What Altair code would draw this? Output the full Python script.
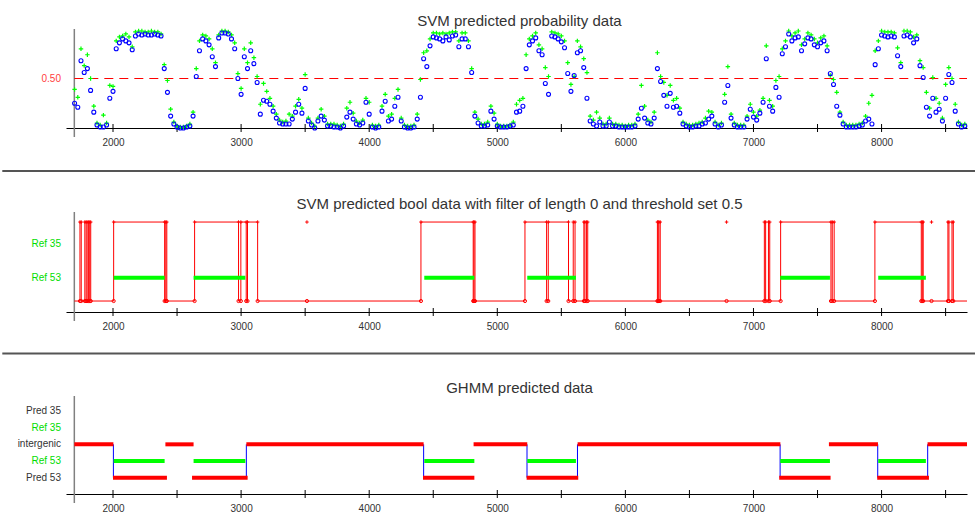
import altair as alt
import pandas as pd

FONT = "Liberation Sans"

# ---------------- shared axis data ----------------
X_MIN, X_MAX = 1633, 8667
Y_AXIS_AT = 1698
X_LABELS = [2000, 3000, 4000, 5000, 6000, 7000, 8000]
X_TICKS = [2000, 2500, 3000, 3500, 4000, 4500, 5000, 5500, 6000, 6500, 7000, 7500, 8000, 8500]

TITLE1 = "SVM predicted probability data"
TITLE2 = "SVM predicted bool data with filter of length 0 and threshold set 0.5"
TITLE3 = "GHMM predicted data"

# ---------------- panel 1: probabilities (sampled every 25 from 1700) ----------------
PROB_START, PROB_STEP = 1700, 25
svm_blue = [
    0.25, 0.21, 0.68, 0.56, 0.60, 0.38, 0.16, 0.03, 0.01, 0.01,
    0.03, 0.30, 0.37, 0.80, 0.86, 0.90, 0.88, 0.86, 0.79, 0.93,
    0.95, 0.94, 0.95, 0.94, 0.94, 0.95, 0.94, 0.93, 0.60, 0.36,
    0.12, 0.04, 0.01, 0.00, 0.00, 0.01, 0.02, 0.12, 0.52, 0.78,
    0.90, 0.88, 0.84, 0.72, 0.62, 0.91, 0.96, 0.96, 0.95, 0.90,
    0.80, 0.50, 0.34, 0.72, 0.60, 0.78, 0.65, 0.46, 0.14, 0.28,
    0.27, 0.24, 0.17, 0.10, 0.05, 0.04, 0.04, 0.04, 0.09, 0.16,
    0.24, 0.15, 0.40, 0.07, 0.03, 0.00, 0.07, 0.12, 0.08, 0.02,
    0.02, 0.01, 0.01, 0.00, 0.02, 0.11, 0.16, 0.09, 0.04, 0.03,
    0.05, 0.26, 0.14, 0.01, 0.00, 0.01, 0.17, 0.27, 0.07, 0.09,
    0.22, 0.31, 0.07, 0.01, 0.00, 0.00, 0.01, 0.09, 0.31, 0.70,
    0.62, 0.83, 0.92, 0.91, 0.90, 0.88, 0.92, 0.89, 0.93, 0.94,
    0.82, 0.90, 0.90, 0.82, 0.56, 0.12, 0.05, 0.02, 0.02, 0.03,
    0.17, 0.09, 0.02, 0.01, 0.01, 0.01, 0.02, 0.03, 0.16, 0.17,
    0.22, 0.60, 0.84, 0.88, 0.91, 0.78, 0.74, 0.45, 0.34, 0.93,
    0.92, 0.90, 0.87, 0.81, 0.55, 0.37, 0.53, 0.76, 0.78, 0.61,
    0.30, 0.07, 0.04, 0.02, 0.06, 0.02, 0.02, 0.06, 0.02, 0.02,
    0.01, 0.01, 0.01, 0.01, 0.01, 0.02, 0.09, 0.20, 0.10, 0.05,
    0.04, 0.10, 0.60, 0.47, 0.33, 0.22, 0.35, 0.21, 0.22, 0.15,
    0.04, 0.02, 0.01, 0.01, 0.02, 0.02, 0.04, 0.05, 0.09, 0.12,
    0.04, 0.01, 0.03, 0.26, 0.43, 0.10, 0.03, 0.01, 0.01, 0.01,
    0.09, 0.19, 0.11, 0.08, 0.15, 0.26, 0.70, 0.22, 0.17, 0.41,
    0.31, 0.75, 0.82, 0.95, 0.88, 0.91, 0.92, 0.78, 0.85, 0.91,
    0.90, 0.84, 0.82, 0.86, 0.88, 0.78, 0.55, 0.44, 0.22, 0.13,
    0.04, 0.01, 0.01, 0.01, 0.01, 0.02, 0.03, 0.07, 0.09, 0.04,
    0.64, 0.80, 0.94, 0.93, 0.92, 0.93, 0.92, 0.73, 0.62, 0.93,
    0.94, 0.92, 0.86, 0.90, 0.63, 0.51, 0.21, 0.12, 0.30, 0.16,
    0.19, 0.07, 0.30, 0.54, 0.46, 0.17, 0.04, 0.01, 0.02,
]
svm_green = [
    0.39, 0.31, 0.80, 0.63, 0.74, 0.50, 0.22, 0.05, 0.03, 0.13,
    0.05, 0.43, 0.42, 0.88, 0.92, 0.93, 0.95, 0.92, 0.82, 0.97,
    0.98, 0.98, 0.97, 0.97, 0.98, 0.97, 0.97, 0.95, 0.64, 0.48,
    0.19, 0.06, 0.02, 0.01, 0.01, 0.02, 0.04, 0.16, 0.60, 0.88,
    0.94, 0.93, 0.90, 0.80, 0.66, 0.94, 0.98, 0.98, 0.97, 0.94,
    0.86, 0.55, 0.40, 0.80, 0.66, 0.86, 0.71, 0.52, 0.24, 0.45,
    0.37, 0.30, 0.22, 0.14, 0.08, 0.06, 0.07, 0.14, 0.12, 0.22,
    0.29, 0.20, 0.54, 0.10, 0.05, 0.02, 0.10, 0.19, 0.12, 0.04,
    0.04, 0.04, 0.03, 0.02, 0.04, 0.20, 0.26, 0.15, 0.07, 0.05,
    0.08, 0.30, 0.26, 0.03, 0.02, 0.03, 0.22, 0.34, 0.12, 0.14,
    0.30, 0.39, 0.10, 0.03, 0.02, 0.02, 0.03, 0.14, 0.49, 0.76,
    0.78, 0.90, 0.96, 0.96, 0.95, 0.96, 0.95, 0.96, 0.97, 0.97,
    0.88, 0.96, 0.96, 0.88, 0.60, 0.16, 0.09, 0.04, 0.04, 0.06,
    0.22, 0.15, 0.04, 0.02, 0.02, 0.02, 0.03, 0.06, 0.24, 0.28,
    0.30, 0.74, 0.90, 0.93, 0.96, 0.84, 0.80, 0.61, 0.52, 0.97,
    0.96, 0.95, 0.93, 0.88, 0.66, 0.44, 0.52, 0.88, 0.82, 0.70,
    0.56, 0.12, 0.08, 0.16, 0.10, 0.04, 0.04, 0.10, 0.04, 0.04,
    0.03, 0.03, 0.02, 0.03, 0.03, 0.04, 0.14, 0.43, 0.22, 0.08,
    0.06, 0.16, 0.76, 0.52, 0.46, 0.33, 0.43, 0.28, 0.30, 0.20,
    0.06, 0.04, 0.03, 0.03, 0.04, 0.05, 0.06, 0.10, 0.17, 0.16,
    0.06, 0.03, 0.05, 0.34, 0.62, 0.14, 0.05, 0.03, 0.03, 0.03,
    0.12, 0.24, 0.16, 0.12, 0.18, 0.30, 0.83, 0.28, 0.22, 0.48,
    0.52, 0.80, 0.88, 0.98, 0.93, 0.96, 0.98, 0.84, 0.90, 0.96,
    0.94, 0.90, 0.86, 0.91, 0.93, 0.83, 0.53, 0.49, 0.36, 0.16,
    0.06, 0.03, 0.03, 0.03, 0.03, 0.04, 0.05, 0.12, 0.25, 0.33,
    0.78, 0.88, 0.98, 0.97, 0.97, 0.97, 0.96, 0.81, 0.66, 0.98,
    0.98, 0.97, 0.92, 0.94, 0.68, 0.61, 0.36, 0.20, 0.51, 0.30,
    0.25, 0.10, 0.44, 0.61, 0.50, 0.24, 0.06, 0.03, 0.04,
]
THRESHOLD = 0.5

# ---------------- panel 2: boolean prediction ----------------
bool_on = [1742, 1780, 1798, 1818, 2005, 2412, 2637, 2998, 3050, 4404, 4818,
           5216, 5398, 5593, 5676, 5696, 6250, 6262, 7085, 7117, 7212, 7615,
           7948, 8318, 8518, 8550]
bool_off = [1752, 1790, 1808, 1826, 2403, 2420, 2980, 3040, 3129, 4812, 4826,
            5385, 5556, 5607, 5684, 5706, 6256, 6272, 7095, 7127, 7605, 7630,
            8310, 8325, 8526, 8560]
bool_dots = [3514, 6790, 8390]
REF53_BOOL_LEVEL, REF35_BOOL_LEVEL = 0.295, 0.72

# reference genes (Ref 53)
ref_start = [2005, 2629, 4430, 5234, 7209, 7974]
ref_end = [2403, 3033, 4821, 5614, 7597, 8346]

# ---------------- panel 3: GHMM ----------------
# levels: Pred 53 = 0, Ref 53 = 1, intergenic = 2, Ref 35 = 3, Pred 35 = 4
inter_start = [1698, 2409, 3041, 4815, 5627, 7589, 8359]
inter_end = [2003, 2629, 4425, 5234, 7210, 7972, 8667]
pred_start = [2000, 2617, 4420, 5229, 7201, 7966]
pred_end = [2421, 3051, 4821, 5632, 7602, 8370]
switch_x = [2003, 3041, 4425, 5232, 5626, 7208, 7970, 8360]

# ---------------- layout ----------------
W = 901
H1, H2, H3 = 99, 100, 98
RED, GREEN, BLUE = "#ff0000", "#00ff00", "#0000ff"
LBL_GREEN, LBL_DARK = "#00dd00", "#333333"

xs = alt.Scale(domain=[X_MIN, X_MAX], nice=False, zero=False)
xaxis = alt.Axis(values=X_LABELS, format="d", ticks=False, grid=False, title=None,
                 domainColor="#000000", domainWidth=1, labelFont=FONT,
                 labelFontSize=10, labelColor="#333333", labelPadding=9,
                 labelFlush=False)


def X(field):
    return alt.X(field, type="quantitative", scale=xs, axis=xaxis)


def frame_layers(h):
    yline = alt.Chart(pd.DataFrame({"x": [Y_AXIS_AT]})).mark_rule(
        color="#808080", strokeWidth=1.5).encode(
        x=X("x"), y=alt.value(0), y2=alt.value(h + 9))
    ticks = alt.Chart(pd.DataFrame({"x": X_TICKS})).mark_rule(
        color="#000000", strokeWidth=1).encode(
        x=X("x"), y=alt.value(h - 4), y2=alt.value(h + 4))
    return [yline, ticks]


def ylabels(names, vals, colors, ys):
    df = pd.DataFrame({"name": names, "v": vals, "c": colors})
    return alt.Chart(df).mark_text(align="right", baseline="middle",
                                   fontSize=10, font=FONT).encode(
        x=alt.value(-5), y=alt.Y("v:Q", scale=ys, axis=None),
        text="name:N", color=alt.Color("c:N", scale=None))


def title_layer(text):
    return alt.Chart(pd.DataFrame({"t": [text]})).mark_text(
        fontSize=15, font=FONT, color="#333333", align="center",
        baseline="alphabetic").encode(
        x=alt.value(W / 2 + 3), y=alt.value(-3), text="t:N")


def separator(y):
    return alt.Chart(pd.DataFrame({"a": [0]})).mark_rule(
        color="#555555", strokeWidth=2).encode(
        x=alt.value(-63.7), x2=alt.value(909), y=alt.value(y))


# ---- panel 1 ----
prob_x = [PROB_START + PROB_STEP * i for i in range(len(svm_blue))]
p1_df = pd.DataFrame({"x": prob_x, "blue": svm_blue, "green": svm_green})
ys1 = alt.Scale(domain=[0, 1], nice=False, zero=False)

anchor = alt.Chart(pd.DataFrame({"a": [0]})).mark_rule(
    color="white", strokeWidth=1).encode(
    x=alt.value(-64.7), x2=alt.value(909), y=alt.value(-28))

green_pts = alt.Chart(p1_df).mark_point(
    shape="M-1,0L1,0M0,-1L0,1", filled=False, color=GREEN, size=20,
    strokeWidth=1.2, opacity=1).encode(
    x=X("x"), y=alt.Y("green:Q", scale=ys1, axis=None))
blue_pts = alt.Chart(p1_df).mark_point(
    shape="circle", filled=False, color=BLUE, size=16, strokeWidth=1.1,
    opacity=1).encode(
    x=X("x"), y=alt.Y("blue:Q", scale=ys1, axis=None))
thr = alt.Chart(pd.DataFrame({"x": [Y_AXIS_AT], "x2": [X_MAX], "y": [THRESHOLD]})).mark_rule(
    color=RED, strokeDash=[9, 6], strokeWidth=1).encode(
    x=X("x"), x2="x2:Q", y=alt.Y("y:Q", scale=ys1, axis=None))

p1 = alt.layer(
    anchor, *frame_layers(H1), thr, green_pts, blue_pts,
    ylabels(["0.50"], [THRESHOLD], ["#ff4040"], ys1),
    title_layer(TITLE1),
).properties(width=W, height=H1)

# ---- panel 2 ----
ys2 = alt.Scale(domain=[-0.139, 1.127], nice=False, zero=False)
step_x, step_y = [Y_AXIS_AT], [0]
for on, off in zip(bool_on, bool_off):
    step_x += [on, off]
    step_y += [1, 0]
step_x.append(X_MAX)
step_y.append(0)
step_df = pd.DataFrame({"x": step_x, "v": step_y})
mark_pos = bool_on + bool_off + bool_dots
low_df = pd.DataFrame({"x": mark_pos, "v": [0] * len(mark_pos)})
high_df = pd.DataFrame({"x": mark_pos, "v": [1] * len(mark_pos)})
ref_df2 = pd.DataFrame({"s": ref_start, "e": ref_end,
                        "v": [REF53_BOOL_LEVEL] * len(ref_start)})

step_line = alt.Chart(step_df).mark_line(
    interpolate="step-after", color=RED, strokeWidth=1).encode(
    x=X("x"), y=alt.Y("v:Q", scale=ys2, axis=None))
low_pts = alt.Chart(low_df).mark_point(
    shape="circle", filled=False, color=RED, size=10, strokeWidth=1,
    opacity=1).encode(x=X("x"), y=alt.Y("v:Q", scale=ys2, axis=None))
high_pts = alt.Chart(high_df).mark_point(
    shape="M-1,0L1,0M0,-1L0,1", filled=False, color=RED, size=12,
    strokeWidth=1, opacity=1).encode(
    x=X("x"), y=alt.Y("v:Q", scale=ys2, axis=None))
ref_bars2 = alt.Chart(ref_df2).mark_rule(color=GREEN, strokeWidth=4).encode(
    x=X("s"), x2="e:Q", y=alt.Y("v:Q", scale=ys2, axis=None))

p2 = alt.layer(
    separator(-41), *frame_layers(H2), step_line, low_pts, high_pts, ref_bars2,
    ylabels(["Ref 35", "Ref 53"], [REF35_BOOL_LEVEL, REF53_BOOL_LEVEL],
            [LBL_GREEN, LBL_GREEN], ys2),
    title_layer(TITLE2),
).properties(width=W, height=H2)

# ---- panel 3 ----
ys3 = alt.Scale(domain=[-0.98, 4.9], nice=False, zero=False)
level_names = ["Pred 35", "Ref 35", "intergenic", "Ref 53", "Pred 53"]
level_vals = [4, 3, 2, 1, 0]
level_colors = [LBL_DARK, LBL_GREEN, LBL_DARK, LBL_GREEN, LBL_DARK]

sw_df = pd.DataFrame({"x": switch_x, "a": [0] * len(switch_x), "b": [2] * len(switch_x)})
inter_df = pd.DataFrame({"s": inter_start, "e": inter_end, "v": [2] * len(inter_start)})
pred_df = pd.DataFrame({"s": pred_start, "e": pred_end, "v": [0] * len(pred_start)})
ref_df3 = pd.DataFrame({"s": ref_start, "e": ref_end, "v": [1] * len(ref_start)})

switches = alt.Chart(sw_df).mark_rule(color=BLUE, strokeWidth=1).encode(
    x=X("x"), y=alt.Y("a:Q", scale=ys3, axis=None), y2="b:Q")
ref_bars3 = alt.Chart(ref_df3).mark_rule(color=GREEN, strokeWidth=4).encode(
    x=X("s"), x2="e:Q", y=alt.Y("v:Q", scale=ys3, axis=None))
inter_bars = alt.Chart(inter_df).mark_rule(color=RED, strokeWidth=4).encode(
    x=X("s"), x2="e:Q", y=alt.Y("v:Q", scale=ys3, axis=None))
pred_bars = alt.Chart(pred_df).mark_rule(color=RED, strokeWidth=4).encode(
    x=X("s"), x2="e:Q", y=alt.Y("v:Q", scale=ys3, axis=None))

p3 = alt.layer(
    separator(-42.5), *frame_layers(H3), switches, ref_bars3, inter_bars, pred_bars,
    ylabels(level_names, level_vals, level_colors, ys3),
    title_layer(TITLE3),
).properties(width=W, height=H3)

chart = alt.vconcat(p1, p2, p3, spacing=84, bounds="flush", padding=0,
                    background="white").configure_view(stroke=None)

chart.save("out.html", embed_options={"renderer": "svg", "actions": False})
